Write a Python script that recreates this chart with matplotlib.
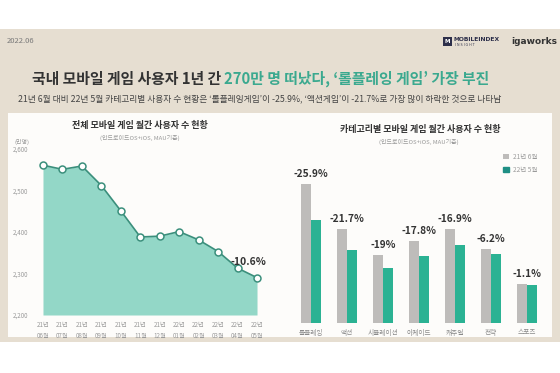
import matplotlib
matplotlib.use("Agg")
import matplotlib.pyplot as plt
from matplotlib.patches import Rectangle
import numpy as np

plt.rcParams['font.family'] = ['Noto Sans CJK KR', 'DejaVu Sans']

# monthly users (만명), 21.06 - 22.05
months = ["21년\n06월", "21년\n07월", "21년\n08월", "21년\n09월", "21년\n10월", "21년\n11월",
          "21년\n12월", "22년\n01월", "22년\n02월", "22년\n03월", "22년\n04월", "22년\n05월"]
mau = [2561, 2551, 2559, 2512, 2451, 2388, 2390, 2401, 2381, 2353, 2313, 2290]
yticks = [2200, 2300, 2400, 2500, 2600]

# category users (relative), 21.06 vs 22.05
categories = ["롤플레잉", "액션", "시뮬레이션", "아케이드", "캐주얼", "전략", "스포츠"]
jun21 = [139, 94, 68, 82, 94, 74, 39]
may22 = [103, 73, 55, 67, 78, 69, 38.5]
changes = ["-25.9%", "-21.7%", "-19%", "-17.8%", "-16.9%", "-6.2%", "-1.1%"]

BEIGE = "#e6ded1"
TEAL_FILL = "#93d7c7"
TEAL_LINE = "#3b8f7c"
TEAL_BAR = "#2bb293"
GRAY_BAR = "#bebcba"
DARK = "#333333"

W, H = 560, 373
fig = plt.figure(figsize=(5.6, 3.73), dpi=100)
fig.patch.set_facecolor("white")

def px(x, y):
    return x / W, 1 - y / H

# background panels
fig.patches.append(Rectangle((0, 1 - 342 / H), 1, (342 - 29) / H, transform=fig.transFigure,
                             facecolor=BEIGE, edgecolor="none", zorder=-5))
fig.patches.append(Rectangle((8 / W, 1 - 337 / H), 544 / W, (337 - 113) / H, transform=fig.transFigure,
                             facecolor="#fdfcfa", edgecolor="none", zorder=-4))

# header
fig.text(*px(7, 41), "2022.06", fontsize=5.5, color="#7a7a7a", va="center")
fig.patches.append(Rectangle(px(443, 46), 9 / W, 9 / H, transform=fig.transFigure,
                             facecolor="#2d2f4a", edgecolor="none"))
fig.text(*px(447.5, 41.5), "M", fontsize=4, color="white", ha="center", va="center",
         fontweight="bold", family="DejaVu Sans")
fig.text(*px(454, 39.5), "MOBILEINDEX", fontsize=4.3, color="#2d2f4a", va="center",
         fontweight="bold", family="DejaVu Sans")
fig.text(*px(455, 45), "I N S I G H T", fontsize=2.3, color="#2d2f4a", va="center",
         family="DejaVu Sans")
fig.text(*px(511, 41.5), "igaworks", fontsize=6.5, color="#333333", va="center",
         fontweight="bold", family="DejaVu Sans")

# title in two colours
fig.canvas.draw()
r = fig.canvas.get_renderer()
t1 = fig.text(*px(32, 79), "국내 모바일 게임 사용자 1년 간 ", fontsize=10.7, color=DARK,
              fontweight="bold", va="center")
fig.canvas.draw()
bb = t1.get_window_extent(r)
fig.text(bb.x1 / fig.bbox.width, 1 - 79 / H, "270만 명 떠났다, ‘롤플레잉 게임’ 가장 부진",
         fontsize=10.7, color="#3ba98f", fontweight="bold", va="center")
fig.text(0.5 * (20 + 500) / W, 1 - 99 / H,
         "21년 6월 대비 22년 5월 카테고리별 사용자 수 현황은 ‘롤플레잉게임’이 -25.9%, ‘액션게임’이 -21.7%로 가장 많이 하락한 것으로 나타남",
         fontsize=6.3, color="#444444", ha="center", va="center")

# left: monthly MAU area chart
ax1 = fig.add_axes([35.2 / W, 1 - 315 / H, 229.6 / W, 166 / H])
x = np.arange(len(mau))
ax1.fill_between(x, yticks[0], mau, color=TEAL_FILL, lw=0, zorder=1)
ax1.plot(x, mau, color=TEAL_LINE, lw=1.2, marker="o", ms=5, mfc="white", mec=TEAL_LINE,
         mew=1.1, zorder=3, clip_on=False)
ax1.set_xlim(-0.4, 11.4)
ax1.set_ylim(yticks[0], yticks[-1])
ax1.set_yticks(yticks)
ax1.set_yticklabels([f"{v:,}" for v in yticks])
ax1.set_xticks(x)
ax1.set_xticklabels(months, linespacing=1.5)
ax1.tick_params(length=0, labelsize=4.5, labelcolor="#9a9a9a", pad=4.5)
ax1.tick_params(axis="y", pad=5)
for s in ax1.spines.values():
    s.set_visible(False)
ax1.axhline(yticks[0], color="#dddddd", lw=0.6, zorder=0)
ax1.set_facecolor("none")
ax1.annotate("-10.6%", (x[-1], mau[-1]), xytext=(-6, 9), textcoords="offset points",
             ha="center", fontsize=7.5, color=DARK, fontweight="bold")
fig.text(*px(22, 142), "(만명)", fontsize=4.3, color="#9a9a9a", ha="center", va="center")
fig.text(*px(140, 125), "전체 모바일 게임 월간 사용자 수 현황", fontsize=6.5, color=DARK,
         ha="center", va="center", fontweight="bold")
fig.text(*px(140, 137.5), "(안드로이드OS+iOS, MAU기준)", fontsize=4.3, color="#9a9a9a",
         ha="center", va="center")

# right: category bar chart
ax2 = fig.add_axes([290 / W, 1 - 323 / H, 253 / W, 173 / H])
xc = np.arange(len(categories))
bw = 0.28
ax2.bar(xc - 0.145, jun21, bw, color=GRAY_BAR, label="21년 6월", zorder=2)
ax2.bar(xc + 0.145, may22, bw, color=TEAL_BAR, label="22년 5월", zorder=2)
for xi, v, lab in zip(xc, jun21, changes):
    ax2.annotate(lab, (xi, v), xytext=(0, 3.5), textcoords="offset points", ha="center",
                 va="bottom", fontsize=7.3, color=DARK, fontweight="bold")
ax2.set_xlim(-0.58, 6.44)
ax2.set_ylim(0, 173)
ax2.set_xticks(xc)
ax2.set_xticklabels(categories)
ax2.set_yticks([])
ax2.tick_params(length=0, labelsize=4.8, labelcolor="#8a8a8a", pad=4)
for s in ax2.spines.values():
    s.set_visible(False)
ax2.axhline(0, color="#dddddd", lw=0.7, zorder=1)
ax2.set_facecolor("none")
leg = ax2.legend(loc="upper right", bbox_to_anchor=((540 - 290) / 253, 1.0),
                 frameon=False, fontsize=4.7, handlelength=0.9, handleheight=0.9,
                 labelspacing=0.8, handletextpad=0.6, borderaxespad=0)
for t in leg.get_texts():
    t.set_color("#9a9a9a")
leg.legend_handles[1].set_color("#1f8f84")
fig.text(*px(420, 129), "카테고리별 모바일 게임 월간 사용자 수 현황", fontsize=6.5, color=DARK,
         ha="center", va="center", fontweight="bold")
fig.text(*px(419, 142), "(안드로이드OS+iOS, MAU기준)", fontsize=4.3, color="#9a9a9a",
         ha="center", va="center")

fig.savefig("out.png", dpi=100, facecolor="white")
